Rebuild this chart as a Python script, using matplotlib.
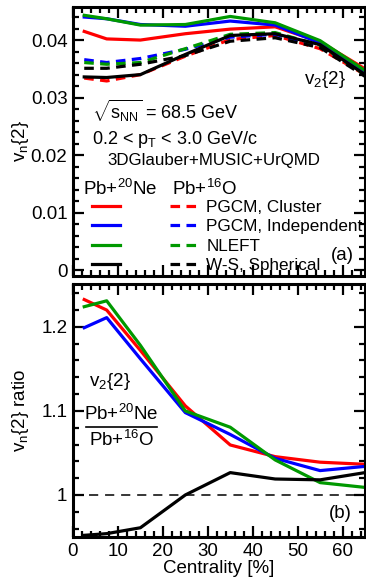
import matplotlib
matplotlib.use("Agg")
import matplotlib.pyplot as plt
from matplotlib.lines import Line2D
from matplotlib.ticker import MultipleLocator

plt.rcParams['font.family'] = ['Liberation Sans', 'DejaVu Sans']
plt.rcParams['mathtext.fontset'] = 'custom'
plt.rcParams['mathtext.rm'] = 'Liberation Sans'
plt.rcParams['mathtext.it'] = 'Liberation Sans'
plt.rcParams['mathtext.bf'] = 'Liberation Sans:bold'

# ---------------- data ----------------
centrality = [2.5, 7.5, 15, 25, 35, 45, 55, 65]

# Pb+20Ne (solid)
ne_cluster     = [0.0415, 0.0402, 0.0400, 0.0411, 0.0419, 0.0423, 0.0397, 0.0350]
ne_independent = [0.0440, 0.0437, 0.0427, 0.0424, 0.0433, 0.0426, 0.0395, 0.0344]
ne_nleft       = [0.0443, 0.0437, 0.0426, 0.0427, 0.0441, 0.0430, 0.0399, 0.0347]
ne_ws          = [0.0336, 0.0335, 0.0340, 0.0375, 0.0408, 0.0411, 0.0392, 0.0340]

# Pb+16O (dashed)
o_cluster     = [0.0334, 0.0329, 0.0340, 0.0372, 0.0401, 0.0408, 0.0385, 0.0340]
o_independent = [0.0366, 0.0361, 0.0368, 0.0384, 0.0405, 0.0410, 0.0390, 0.0340]
o_nleft       = [0.0361, 0.0358, 0.0361, 0.0385, 0.0410, 0.0413, 0.0391, 0.0340]
o_ws          = [0.0351, 0.0351, 0.0358, 0.0373, 0.0398, 0.0404, 0.0387, 0.0337]

# ratios Pb+20Ne / Pb+16O
ratio_cluster     = [1.2325, 1.220, 1.172, 1.106, 1.0595, 1.0456, 1.039, 1.0365]
ratio_independent = [1.199, 1.211, 1.162, 1.098, 1.072, 1.0436, 1.029, 1.034]
ratio_nleft       = [1.224, 1.231, 1.178, 1.100, 1.0806, 1.0417, 1.0147, 1.009]
ratio_ws          = [0.952, 0.954, 0.961, 1.000, 1.0266, 1.019, 1.018, 1.0266]

model_names = ['PGCM, Cluster', 'PGCM, Independent', 'NLEFT', 'W-S, Spherical']
colors = ['#ff0000', '#0000ff', '#009900', '#000000']

ne_series = [ne_cluster, ne_independent, ne_nleft, ne_ws]
o_series = [o_cluster, o_independent, o_nleft, o_ws]
ratio_series = [ratio_cluster, ratio_independent, ratio_nleft, ratio_ws]

# ---------------- figure ----------------
W, H = 366, 583
fig = plt.figure(figsize=(W / 100, H / 100), dpi=100)

def px_axes(l, t, r, b):
    return fig.add_axes([l / W, 1 - b / H, (r - l) / W, (b - t) / H])

ax1 = px_axes(73, 7, 365, 276)
ax2 = px_axes(73, 284, 365, 537)

LW = 2.3
dash = (3.0, 2.0)
FS = 13.5

for s, c in zip(o_series, colors):
    ax1.plot(centrality, s, color=c, lw=LW, linestyle=(0, dash))
for s, c in zip(ne_series, colors):
    ax1.plot(centrality, s, color=c, lw=LW)

for s, c in zip(ratio_series, colors):
    ax2.plot(centrality, s, color=c, lw=LW)
ax2.axhline(1.0, color='black', lw=1.1, linestyle=(0, (6, 4.5)))

for ax in (ax1, ax2):
    ax.set_xlim(0, 65)
    ax.xaxis.set_major_locator(MultipleLocator(10))
    ax.xaxis.set_minor_locator(MultipleLocator(2))
    ax.tick_params(which='both', direction='in', top=True, right=True,
                   labelsize=FS, width=1.6, pad=4)
    ax.tick_params(which='major', length=8)
    ax.tick_params(which='minor', length=4.5)
    for sp in ax.spines.values():
        sp.set_linewidth(2.2)

ax1.set_ylim(-0.00096, 0.04574)
ax1.yaxis.set_minor_locator(MultipleLocator(0.002))
ax1.set_yticks([0, 0.01, 0.02, 0.03, 0.04])
ax1.set_yticklabels(['0', '0.01', '0.02', '0.03', '0.04'])
ax1.tick_params(axis='x', labelbottom=False)

ax2.set_ylim(0.95, 1.251)
ax2.set_yticks([1.0, 1.1, 1.2])
ax2.set_yticklabels(['1', '1.1', '1.2'])
ax2.yaxis.set_minor_locator(MultipleLocator(0.02))
ax2.set_xlabel('Centrality [%]', fontsize=FS, labelpad=0)

ax1.set_ylabel(r'$\mathregular{v_n\{2\}}$', fontsize=FS)
ax2.set_ylabel(r'$\mathregular{v_n\{2\}}$ ratio', fontsize=FS)
ax1.yaxis.set_label_coords(-0.145, 0.5)
ax2.yaxis.set_label_coords(-0.145, 0.5)

# ---- annotations top panel ----
def tx(x, y, s, **kw):
    return fig.text(x / W, 1 - y / H, s, **kw)

tx(325, 80, r'$\mathregular{v_2\{2\}}$', fontsize=FS, ha='center', va='center')
tx(92, 111, r'$\sqrt{\mathregular{s_{NN}}}$ = 68.5 GeV', fontsize=13, ha='left', va='center')
tx(92, 139, r'0.2 < $\mathregular{p_T}$ < 3.0 GeV/c', fontsize=13, ha='left', va='center')
tx(214, 161, '3DGlauber+MUSIC+UrQMD', fontsize=12.2, ha='center', va='center')
tx(83, 189, r'Pb+$\mathregular{^{20}}$Ne', fontsize=FS, ha='left', va='center')
tx(172, 189, r'Pb+$\mathregular{^{16}}$O', fontsize=FS, ha='left', va='center')
tx(342, 255, '(a)', fontsize=FS, ha='center', va='center')

handles = [Line2D([], [], color=c, lw=LW) for c in colors] + \
          [Line2D([], [], color=c, lw=LW, linestyle=(0, dash)) for c in colors]
labels = [''] * 4 + model_names
leg = ax1.legend(handles, labels, ncol=2, frameon=False, fontsize=12.3,
                 handlelength=1.65, handletextpad=0.5, columnspacing=2.4,
                 labelspacing=0.26, borderpad=0, borderaxespad=0,
                 loc='upper left', bbox_to_anchor=(92 / W, 1 - 200 / H),
                 bbox_transform=fig.transFigure)

# ---- annotations bottom panel ----
tx(110, 381, r'$\mathregular{v_2\{2\}}$', fontsize=FS, ha='center', va='center')
tx(121, 414, r'Pb+$\mathregular{^{20}}$Ne', fontsize=FS, ha='center', va='center')
fig.add_artist(Line2D([86 / W, 157 / W], [1 - 427 / H, 1 - 427 / H], color='black', lw=1.2))
tx(121, 440, r'Pb+$\mathregular{^{16}}$O', fontsize=FS, ha='center', va='center')
tx(340, 513, '(b)', fontsize=FS, ha='center', va='center')

fig.savefig('out.png', dpi=100)
